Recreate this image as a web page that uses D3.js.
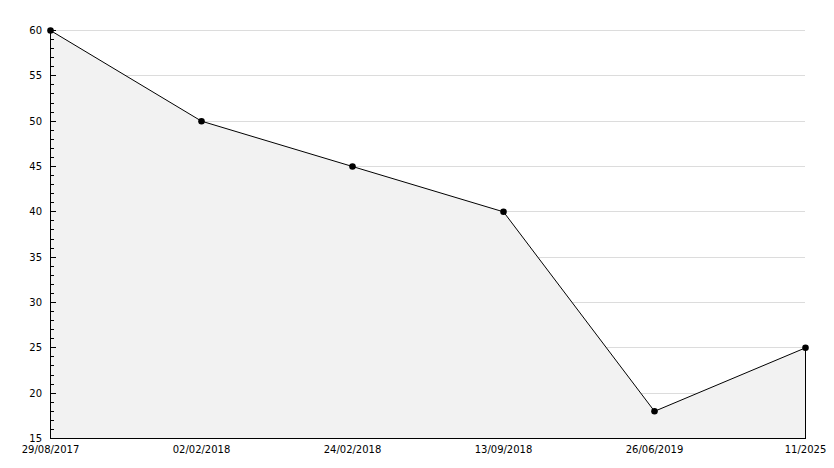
<!DOCTYPE html>
<html><head><meta charset="utf-8">
<script src="https://cdn.jsdelivr.net/npm/d3@7"></script>
<style>html,body{margin:0;padding:0;background:#fff;}svg{display:block;}</style>
</head><body>
<svg id="c" width="834" height="468"></svg>
<script>
const categories = ["29/08/2017","02/02/2018","24/02/2018","13/09/2018","26/06/2019","11/2025"];
const values = [60, 50, 45, 40, 18, 25];
const yTicks = [15,20,25,30,35,40,45,50,55,60];

const svg = d3.select("#c");
const pLeft = 50, pRight = 805, pTop = 30, pBottom = 438;
const x = d3.scalePoint().domain(categories).range([pLeft, pRight]);
const y = d3.scaleLinear().domain([15, 60]).range([pBottom, pTop]);
const font = "DejaVu Sans, sans-serif";

// gridlines
svg.append("g").selectAll("line").data(yTicks.filter(d => d > 15)).join("line")
  .attr("x1", pLeft).attr("x2", pRight)
  .attr("y1", d => Math.round(y(d)) + 0.5).attr("y2", d => Math.round(y(d)) + 0.5)
  .attr("stroke", "#dcdcdc").attr("stroke-width", 1);

const data = categories.map((c, i) => ({c, v: values[i]}));

// area
svg.append("path").datum(data)
  .attr("d", d3.area().x(d => x(d.c) + 0.5).y0(pBottom + 0.5).y1(d => y(d.v) + 0.5))
  .attr("fill", "#f2f2f2").attr("stroke", "none");
// right edge of area
svg.append("line")
  .attr("x1", x(categories[categories.length-1]) + 0.5).attr("x2", x(categories[categories.length-1]) + 0.5)
  .attr("y1", y(values[values.length-1])).attr("y2", pBottom)
  .attr("stroke", "#000");
// line
svg.append("path").datum(data)
  .attr("d", d3.line().x(d => x(d.c) + 0.5).y(d => y(d.v) + 0.5))
  .attr("fill", "none").attr("stroke", "#000").attr("stroke-width", 1);

// y axis line
svg.append("line").attr("x1", pLeft + 0.5).attr("x2", pLeft + 0.5).attr("y1", pTop).attr("y2", pBottom + 1)
  .attr("stroke", "#000");
// x axis line
svg.append("line").attr("x1", pLeft).attr("x2", pRight + 1).attr("y1", pBottom + 0.5).attr("y2", pBottom + 0.5)
  .attr("stroke", "#000");

// minor ticks
const minor = d3.range(15, 61, 1);
svg.append("g").selectAll("line").data(minor).join("line")
  .attr("x1", pLeft).attr("x2", d => pLeft + (d % 5 === 0 ? 6 : 4))
  .attr("y1", d => Math.round(y(d)) + 0.5).attr("y2", d => Math.round(y(d)) + 0.5)
  .attr("stroke", "#000");

// y labels
svg.append("g").selectAll("text").data(yTicks).join("text")
  .attr("x", 42).attr("y", d => y(d) + 4)
  .attr("text-anchor", "end").attr("font-family", font).attr("font-size", 10)
  .attr("fill", "#000").text(d => d);

// x labels
svg.append("g").selectAll("text").data(categories).join("text")
  .attr("x", d => x(d) + 0.5).attr("y", 453)
  .attr("text-anchor", "middle").attr("font-family", font).attr("font-size", 10)
  .attr("fill", "#000").text(d => d);

// markers
svg.append("g").selectAll("path").data(data).join("path")
  .attr("transform", d => `translate(${x(d.c) + 0.5},${y(d.v) + 0.5})`)
  .attr("d", d3.symbol().type(d3.symbolCircle).size(34))
  .attr("fill", "#000");
</script>
</body></html>
